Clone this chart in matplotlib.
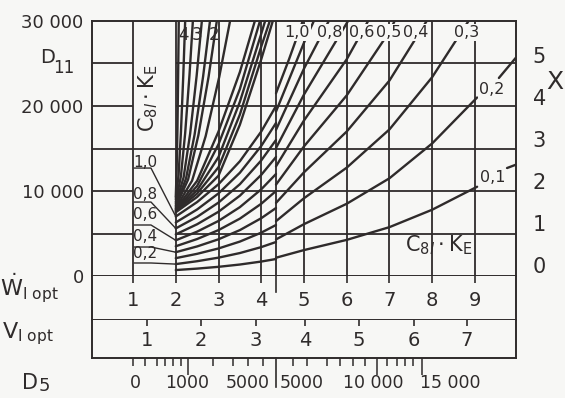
import matplotlib.pyplot as plt
from matplotlib.transforms import blended_transform_factory

ink = '#2f2b2b'
paper = '#f7f7f5'
FIG_W, FIG_H = 565, 398

# W_l,opt scale; the chart changes scale at w_break
w_min, w_max = 0.04, 9.96
w_break = 4.345
w_ticks = [1, 2, 3, 4, 5, 6, 7, 8, 9]

# left of the break: C_8l*K_E = 0,1 ... 1,0 run from W = 2 to the break
left_w = [2.0, 2.5, 3.0, 3.5, 4.0, w_break]
left_d = [
    [700, 870, 1080, 1350, 1700, 2000],
    [1400, 1740, 2160, 2700, 3400, 4000],
    [2100, 2610, 3240, 4050, 5100, 6000],
    [2800, 3480, 4320, 5400, 6800, 8000],
    [3500, 4350, 5400, 6750, 8500, 10000],
    [4200, 5220, 6480, 8100, 10200, 12000],
    [4900, 6090, 7560, 9450, 11900, 14000],
    [5600, 6960, 8640, 10800, 13600, 16000],
    [6300, 7830, 9720, 12150, 15300, 18000],
    [7000, 8700, 10800, 13500, 17000, 20000],
]
# the steep family (2, 3, 4 ...) leaving through the top edge
steep_w = [
    [2.0, 2.02, 2.04, 2.055, 2.07],
    [2.0, 2.066, 2.121, 2.176, 2.22],
    [2.0, 2.12, 2.22, 2.32, 2.40],
    [2.0, 2.183, 2.336, 2.488, 2.61],
    [2.0, 2.24, 2.44, 2.64, 2.80],
    [2.0, 2.288, 2.528, 2.768, 2.96],
    [2.0, 2.381, 2.699, 3.016, 3.27],
    [2.0, 2.5, 3.0, 3.5, 3.85],
    [2.0, 2.5, 3.0, 3.5, 3.97],
    [2.0, 2.5, 3.0, 3.5, 4.0, 4.09],
    [2.0, 2.5, 3.0, 3.5, 4.0, 4.20],
    [2.0, 2.5, 3.0, 3.5, 4.0, 4.27],
]
steep_d = [
    [9300, 12400, 17500, 23500, 30000],
    [9000, 11900, 16940, 23640, 30000],
    [8700, 11720, 16820, 23580, 30000],
    [8500, 11600, 16730, 23540, 30000],
    [8300, 11470, 16630, 23490, 30000],
    [8150, 11340, 16540, 23450, 30000],
    [8000, 11210, 16450, 23400, 30000],
    [7900, 11200, 17000, 24000, 30000],
    [7800, 10600, 15500, 22000, 30000],
    [7700, 10100, 14000, 20500, 28500, 30000],
    [7600, 9700, 12800, 19000, 27000, 30000],
    [7500, 9300, 11800, 17800, 25500, 30000],
]
steep_labels = ['4', '3', '2']
steep_label_w = [2.17, 2.5, 2.9]

# right of the break, 0,1 ... 1,0
right_w = [
    [w_break, 5, 6, 7, 8, 9.05],
    [w_break, 5, 6, 7, 8, 9.05],
    [w_break, 5, 6, 7, 8, 8.85],
    [w_break, 5, 6, 7, 7.87],
    [w_break, 5, 6, 7, 7.12],
    [w_break, 5, 6, 6.5],
    [w_break, 5, 6.03],
    [w_break, 5, 5.58],
    [w_break, 5, 5.23],
    [w_break, 4.65, 4.97],
]
right_d = [
    [2150, 3050, 4250, 5750, 7800, 10500],
    [4300, 6100, 8500, 11500, 15600, 21000],
    [6450, 9150, 12750, 17250, 23400, 30000],
    [8600, 12200, 17000, 23000, 30000],
    [10750, 15250, 21250, 28750, 30000],
    [12900, 18300, 25500, 30000],
    [15050, 21350, 30000],
    [17200, 24400, 30000],
    [19350, 27450, 30000],
    [21500, 25500, 30000],
]
# short pieces of 0,1 and 0,2 beyond their labels
tail_w = [[9.75, 9.96], [9.56, 9.96]]
tail_d = [[12700, 13100], [23300, 25700]]

right_labels = ['1,0', '0,8', '0,6', '0,5', '0,4', '0,3', '0,2', '0,1']
right_label_w = [4.84, 5.6, 6.36, 6.98, 7.62, 8.81, 9.4, 9.42]
right_label_d = [28600, 28600, 28600, 28600, 28600, 28600, 21900, 11600]

# names of the starting points at the left edge
start_labels = ['1,0', '0,8', '0,6', '0,4', '0,2']
start_curve = [9, 7, 5, 3, 1]
start_label_d = [13400, 9640, 7290, 4590, 2700]
start_line_d = [12700, 8700, 6000, 3410, 1530]

# secondary scales
x_ticks = [0, 1, 2, 3, 4, 5]
v_ticks = [1, 2, 3, 4, 5, 6, 7]
v_tick_w = [1.33, 2.59, 3.88, 5.02, 6.29, 7.57, 8.81]
d5_minor_w = [1.00, 1.28, 1.56, 1.75, 1.94, 2.12, 2.87, 3.34, 3.69, 4.04,
              4.74, 5.07, 5.54, 5.84, 6.15, 6.43, 6.94, 7.18, 7.36, 7.55]
d5_major_w = [2.29, 6.71, 7.76]
d5_labels = ['0', '1000', '5000', '5000', '10 000', '15 000']
d5_label_w = [1.05, 2.26, 3.69, 4.95, 6.61, 8.42]


def rect(x0, y0, x1, y1):
    return [x0 / FIG_W, 1 - y1 / FIG_H, (x1 - x0) / FIG_W, (y1 - y0) / FIG_H]


fig = plt.figure(figsize=(FIG_W / 100, FIG_H / 100), dpi=100, facecolor=paper)
ax = fig.add_axes(rect(92, 21, 516, 276))
ax.set_facecolor(paper)
ax.set_xlim(w_min, w_max)
ax.set_ylim(0, 30000)
for s in ax.spines.values():
    s.set_color(ink)
    s.set_linewidth(1.4)
ax.set_xticks([])
ax.set_yticks([0, 10000, 20000, 30000], ['0', '10 000', '20 000', '30 000'])
ax.tick_params(axis='y', length=0, pad=6, labelsize=13, labelcolor=ink)

grid_kw = dict(color=ink, linewidth=1.3, zorder=1)
for w in w_ticks + [w_break]:
    ax.axvline(w, **grid_kw)
for d in [5000, 10000, 15000, 20000, 25000]:
    ax.hlines(d, 2, w_max, **grid_kw)
    ax.hlines(d, w_min, 1, **grid_kw)
ax.hlines(15000, 1, 2, **grid_kw)

curve_kw = dict(color=ink, linewidth=1.7, solid_capstyle='round', zorder=2)
for d in left_d:
    ax.plot(left_w, d, **curve_kw)
for w, d in zip(steep_w, steep_d):
    ax.plot(w, d, **curve_kw)
for w, d in zip(right_w + tail_w, right_d + tail_d):
    ax.plot(w, d, **curve_kw)

box = dict(boxstyle='square,pad=0.06', fc=paper, ec='none')
for lab, w in zip(steep_labels, steep_label_w):
    ax.text(w, 28400, lab, fontsize=12, color=ink, ha='center', va='center', zorder=3)
for lab, w, d in zip(right_labels, right_label_w, right_label_d):
    ax.text(w, d, lab, fontsize=11.5, color=ink, ha='center', va='center',
            bbox=box, zorder=3)

for lab, ci, dl, du in zip(start_labels, start_curve, start_label_d, start_line_d):
    ax.text(1.28, dl, lab, fontsize=11, color=ink, ha='center', va='center')
    ax.plot([1.03, 1.42, left_w[0]], [du, du, left_d[ci][0]],
            color=ink, linewidth=1.0, zorder=2)

ax.text(1.35, 20900, r'$\mathrm{C}_{8l}\cdot\mathrm{K}_{\mathrm{E}}$', rotation=90,
        fontsize=15, color=ink, ha='center', va='center')
ax.text(8.15, 3600, r'$\mathrm{C}_{8l}\cdot\mathrm{K}_{\mathrm{E}}$',
        fontsize=15, color=ink, ha='center', va='center')

# X scale on the right
axx = ax.twinx()
axx.set_ylim(-0.261, 5.811)
axx.set_yticks(x_ticks, [str(t) for t in x_ticks])
axx.tick_params(axis='y', length=0, pad=12, labelsize=15, labelcolor=ink)
for s in axx.spines.values():
    s.set_visible(False)

# W_l,opt panel
axw = fig.add_axes(rect(92, 276, 516, 320))
axw.set_facecolor(paper)
axw.set_xlim(w_min, w_max)
axw.set_ylim(0, 1)
axw.set_yticks([])
axw.xaxis.set_ticks_position('top')
axw.set_xticks(w_ticks, [])
axw.tick_params(axis='x', direction='in', length=5, width=1.2, color=ink)
for s in axw.spines.values():
    s.set_color(ink)
    s.set_linewidth(1.4)
axw.spines['top'].set_visible(False)
axw.axvline(w_break, 0.63, 1, color=ink, linewidth=1.2)
for w in w_ticks:
    axw.text(w, 0.44, str(w), fontsize=14, color=ink, ha='center', va='center')

# V_l,opt panel with the D5 scale underneath
axv = fig.add_axes(rect(92, 320, 516, 358))
axv.set_facecolor(paper)
axv.set_xlim(w_min, w_max)
axv.set_ylim(0, 1)
axv.set_yticks([])
axv.tick_params(axis='x', which='both', top=True, bottom=True, labelbottom=False,
                color=ink, width=1.1)
axv.set_xticks(d5_major_w, [])
axv.set_xticks(d5_minor_w, minor=True)
axv.tick_params(axis='x', which='major', length=12, direction='out', top=False)
axv.tick_params(axis='x', which='minor', length=6, direction='out', top=False)
for s in axv.spines.values():
    s.set_color(ink)
    s.set_linewidth(1.4)
axv.spines['top'].set_visible(False)
tv = blended_transform_factory(axv.transData, axv.transAxes)
axv.vlines(v_tick_w, 0.84, 1.0, color=ink, linewidth=1.2)
for v, w in zip(v_ticks, v_tick_w):
    axv.text(w, 0.47, str(v), fontsize=14, color=ink, ha='center', va='center')
axv.plot([w_break, w_break], [0, -0.75], color=ink, linewidth=1.2, clip_on=False)
for lab, w in zip(d5_labels, d5_label_w):
    axv.text(w, -0.66, lab, fontsize=12.5, color=ink, ha='center', va='center',
             transform=tv)

# axis names
fig.text(40 / FIG_W, 1 - 63 / FIG_H, 'D', fontsize=14, color=ink, va='baseline')
fig.text(53 / FIG_W, 1 - 73 / FIG_H, '11', fontsize=12, color=ink, va='baseline')
fig.text(546 / FIG_W, 1 - 89 / FIG_H, 'X', fontsize=18, color=ink, va='baseline')
fig.text(0 / FIG_W, 1 - 296 / FIG_H, r'$\dot{\mathrm{W}}_{\mathrm{l\ opt}}$',
         fontsize=16, color=ink, va='baseline')
fig.text(2 / FIG_W, 1 - 338 / FIG_H, r'$\mathrm{V}_{\mathrm{l\ opt}}$',
         fontsize=16, color=ink, va='baseline')
fig.text(22 / FIG_W, 1 - 389 / FIG_H, 'D', fontsize=15, color=ink, va='baseline')
fig.text(39 / FIG_W, 1 - 391 / FIG_H, '5', fontsize=13, color=ink, va='baseline')

fig.savefig('out.png', dpi=100, facecolor=paper)
